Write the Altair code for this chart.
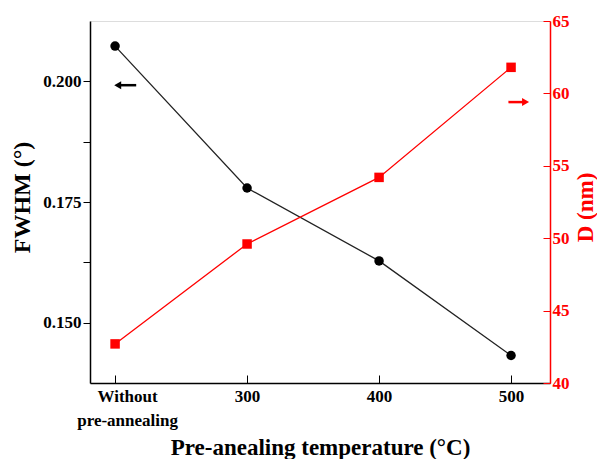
import altair as alt
import pandas as pd

categories = ["Without pre-annealing", "300", "400", "500"]
fwhm = [0.2073, 0.1779, 0.1628, 0.1432]
d_nm = [42.7, 49.6, 54.2, 61.8]

# arrow annotations (data units): x start, x end, y
arrow_fwhm_x = [0.02, 0.16]
arrow_fwhm_y = [0.1992, 0.1992]
arrow_d_x = [2.98, 3.11]
arrow_d_y = [59.4, 59.4]

FONT = "Liberation Serif"
RED = "#ff0000"

df = pd.DataFrame({"idx": list(range(len(categories))), "cat": categories,
                   "fwhm": fwhm, "d": d_nm})
arr_f = pd.DataFrame({"x": arrow_fwhm_x, "y": arrow_fwhm_y, "head": [1, 0]})
arr_d = pd.DataFrame({"x": arrow_d_x, "y": arrow_d_y, "head": [0, 1]})

# label expression from category list
parts = []
for i, c in enumerate(categories):
    words = c.split(" ")
    if len(words) > 1:
        lab = "[" + ",".join("'" + w + "'" for w in words) + "]"
    else:
        lab = "'" + c + "'"
    parts.append(f"datum.value == {i} ? {lab} : ")
label_expr = "".join(parts) + "''"

xscale = alt.Scale(domain=[-0.19, 3.295], nice=False, zero=False)
yl_scale = alt.Scale(domain=[0.1375, 0.2125], nice=False, zero=False)
yr_scale = alt.Scale(domain=[40, 65], nice=False, zero=False)

x_axis = alt.Axis(
    values=[0, 1, 2, 3], labelExpr=label_expr, title="Pre-anealing temperature (°C)",
    grid=False, domainColor="black", domainWidth=1.5, tickColor="black", tickWidth=1,
    tickSize={"expr": "-8"}, labelPadding=13, labelLineHeight=24,
    labelOffset={"condition": {"test": "datum.value == 0", "value": 12}, "value": 0},
    labelFont=FONT, labelFontSize=17, labelFontWeight="bold", labelColor="black",
    titleFont=FONT, titleFontSize=23, titleFontWeight="bold", titleColor="black",
    titleBaseline="alphabetic", titleY=71,
)

yl_axis = alt.Axis(
    values=[0.15, 0.1625, 0.175, 0.1875, 0.2],
    labelExpr="round(datum.value*1000) % 25 == 0 ? format(datum.value, '.3f') : ''",
    title="FWHM (°)", grid=False, orient="left",
    domainColor="black", domainWidth=1.5, tickColor="black", tickWidth=1, tickSize=7,
    labelPadding=2, labelFont=FONT, labelFontSize=17, labelFontWeight="bold", labelColor="black",
    titleFont=FONT, titleFontSize=24, titleFontWeight="bold", titleColor="black",
    titleAngle=270, titleBaseline="middle", titleX=-68, titleY=176,
)

yr_axis = alt.Axis(
    values=[40, 45, 50, 55, 60, 65], title="D (nm)", grid=False, orient="right",
    domainColor=RED, domainWidth=1.5, tickColor=RED, tickWidth=1, tickSize={"expr": "-7"},
    labelPadding=9, labelFont=FONT, labelFontSize=17, labelFontWeight="bold", labelColor=RED,
    titleFont=FONT, titleFontSize=23, titleFontWeight="bold", titleColor=RED,
    titleAngle=270, titleBaseline="middle", titleX=35, titleY=186,
)

x_enc = alt.X("idx:Q", scale=xscale, axis=x_axis)

left_line = alt.Chart(df).mark_line(color="#222222", strokeWidth=1.3).encode(
    x=x_enc, y=alt.Y("fwhm:Q", scale=yl_scale, axis=yl_axis))
left_pts = alt.Chart(df).mark_point(shape="circle", filled=True, color="black", size=90, opacity=1).encode(
    x=alt.X("idx:Q", scale=xscale), y=alt.Y("fwhm:Q", scale=yl_scale))
arr_f_line = alt.Chart(arr_f).mark_line(color="black", strokeWidth=2.5).encode(
    x=alt.X("x:Q", scale=xscale), y=alt.Y("y:Q", scale=yl_scale))
arr_f_head = alt.Chart(arr_f).transform_filter("datum.head == 1").mark_point(
    shape="triangle-left", filled=True, color="black", size=65, opacity=1).encode(
    x=alt.X("x:Q", scale=xscale), y=alt.Y("y:Q", scale=yl_scale))

left = alt.layer(left_line, left_pts, arr_f_line, arr_f_head)

right_line = alt.Chart(df).mark_line(color=RED, strokeWidth=1.3).encode(
    x=alt.X("idx:Q", scale=xscale), y=alt.Y("d:Q", scale=yr_scale, axis=yr_axis))
right_pts = alt.Chart(df).mark_point(shape="square", filled=True, color=RED, size=90, opacity=1).encode(
    x=alt.X("idx:Q", scale=xscale), y=alt.Y("d:Q", scale=yr_scale))
arr_d_line = alt.Chart(arr_d).mark_line(color=RED, strokeWidth=2.5).encode(
    x=alt.X("x:Q", scale=xscale), y=alt.Y("y:Q", scale=yr_scale))
arr_d_head = alt.Chart(arr_d).transform_filter("datum.head == 1").mark_point(
    shape="triangle-right", filled=True, color=RED, size=65, opacity=1).encode(
    x=alt.X("x:Q", scale=xscale), y=alt.Y("y:Q", scale=yr_scale))

right = alt.layer(right_line, right_pts, arr_d_line, arr_d_head)

chart = alt.layer(left, right).resolve_scale(y="independent").properties(
    width=460, height=362,
    autosize=alt.AutoSizeParams(type="none"),
    padding={"left": 90, "top": 21, "right": 47, "bottom": 76},
).configure_view(stroke="#444444", strokeWidth=1.5).configure(background="white")

chart.save("out.html", embed_options={"renderer": "svg", "actions": False})
